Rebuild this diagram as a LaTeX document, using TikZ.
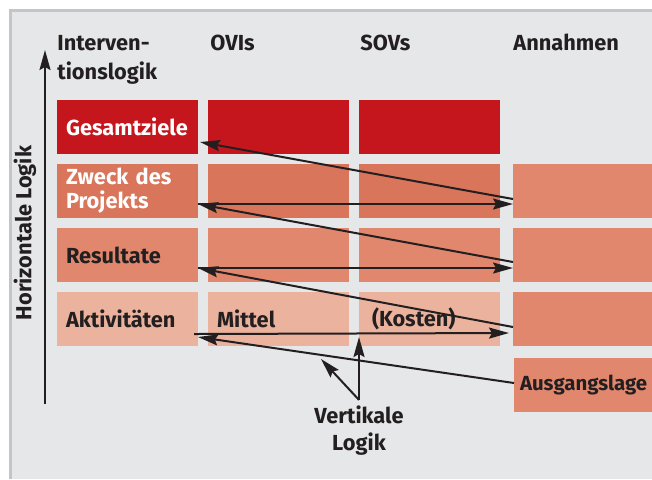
\documentclass[tikz,border=0pt]{standalone}
\usepackage{fontspec}
\setmainfont{Fira Sans}
\usepackage{tikz}
\usetikzlibrary{positioning}
\usetikzlibrary{arrows.meta}
\definecolor{framegray}{RGB}{230,231,232}
\definecolor{bordergray}{RGB}{196,197,201}
\definecolor{goalred}{RGB}{196,22,28}
\definecolor{purposeorange}{RGB}{217,117,91}
\definecolor{resultorange}{RGB}{224,135,109}
\definecolor{activitypink}{RGB}{235,179,157}
\definecolor{inkblack}{RGB}{35,31,32}
\newcommand{\widthcell}{70.5pt}
\newcommand{\heightcell}{27pt}
\newcommand{\gapcell}{5pt}
\tikzset{
    common/.style={font=\bfseries\fontsize{10.9}{12}\selectfont, text=inkblack},
    cell/.style={common, anchor=north west, minimum width=\widthcell, minimum height=\heightcell,
        text width=61.5pt, inner xsep=4.5pt, inner ysep=0pt, outer sep=0pt, align=left},
    head/.style={common, anchor=base west, inner sep=0pt, align=left},
    goal/.style={cell, fill=goalred, text=white},
    purpose/.style={cell, fill=purposeorange, text=white},
    result/.style={cell, fill=resultorange},
    activity/.style={cell, fill=activitypink},
    assumption/.style={cell, fill=resultorange, minimum width=69.5pt},
    logic/.style={-{Stealth[length=10pt, width=5.5pt, inset=1.5pt]}, line width=1pt, draw=inkblack}
}

\begin{document}
\begin{tikzpicture}[x=0.5pt, y=-0.5pt]
    \useasboundingbox (0,0) rectangle (652,479);
    \fill[framegray] (9,10) rectangle (652,479);
    \draw[bordergray, line width=1.5pt] (10,479) |- (652,10.5);

    \node[head, font=\bfseries\fontsize{10.9}{14.5}\selectfont] (hint) at (57,79) {Interven-\\tionslogik};
    \node[head] (hovi) at (210,50) {OVIs};
    \node[head] (hsov) at (360,50) {SOVs};
    \node[head] (hann) at (513,50) {Annahmen};

    \node[goal] (ziel) at (57,100) {Gesamtziele};
    \node[goal, right=\gapcell of ziel] (zielovi) {};
    \node[goal, right=\gapcell of zielovi] (zielsov) {};

    \node[purpose, below=\gapcell of ziel] (zweck) {Zweck des\\Projekts};
    \node[purpose, right=\gapcell of zweck] (zweckovi) {};
    \node[purpose, right=\gapcell of zweckovi] (zwecksov) {};
    \node[assumption, right=6.5pt of zwecksov] (ann2) {};

    \node[result, below=\gapcell of zweck] (result) {Resultate};
    \node[result, right=\gapcell of result] (resultovi) {};
    \node[result, right=\gapcell of resultovi] (resultsov) {};
    \node[assumption, right=6.5pt of resultsov] (ann3) {};

    \node[activity, below=\gapcell of result] (akt) {Aktivitäten};
    \node[activity, right=\gapcell of akt] (mittel) {Mittel};
    \node[activity, right=\gapcell of mittel] (kosten) {\hspace*{2pt}(Kosten)};
    \node[assumption, right=6.5pt of kosten] (ann4) {};

    \node[assumption, below=6pt of ann4, inner xsep=3pt, text width=63.5pt,
        font=\bfseries\fontsize{10.2}{12}\selectfont] (ausg) {Ausgangslage};

    \draw[logic] ([yshift=9.5pt]ann2.south west) -- ([xshift=1pt, yshift=6pt]ziel.south east);
    \draw[logic] ([yshift=7pt]zweck.south east) -- ([yshift=7pt]ann2.south west);
    \draw[logic] ([yshift=10pt]ann3.south west) -- ([yshift=7pt]zweck.south east);
    \draw[logic] ([yshift=7pt]result.south east) -- ([yshift=7pt]ann3.south west);
    \draw[logic] ([yshift=9.5pt]ann4.south west) -- ([yshift=7pt]result.south east);
    \draw[logic] ([xshift=-2pt, yshift=6pt]akt.south east) -- ([xshift=-2pt, yshift=6.5pt]ann4.south west);
    \draw[logic] ([yshift=1pt]ausg.west) -- ([yshift=4.5pt]akt.south east);

    \coordinate (hbot) at (45,404);
    \coordinate (htop) at (45,50);
    \draw[logic] (hbot) -- (htop);
    \node[common, rotate=90] (hlogik) at (25,233) {Horizontale Logik};

    \node[common, align=center, anchor=base, inner ysep=2.5pt, font=\bfseries\fontsize{10.9}{13.5}\selectfont] (vlogik) at (359,450) {Vertikale\\Logik};
    \coordinate (vtip) at (359,337);
    \coordinate (vdiag) at (321,359);
    \draw[logic] (vlogik.north) -- (vtip);
    \draw[logic] (vlogik.north) -- (vdiag);
\end{tikzpicture}
\end{document}
